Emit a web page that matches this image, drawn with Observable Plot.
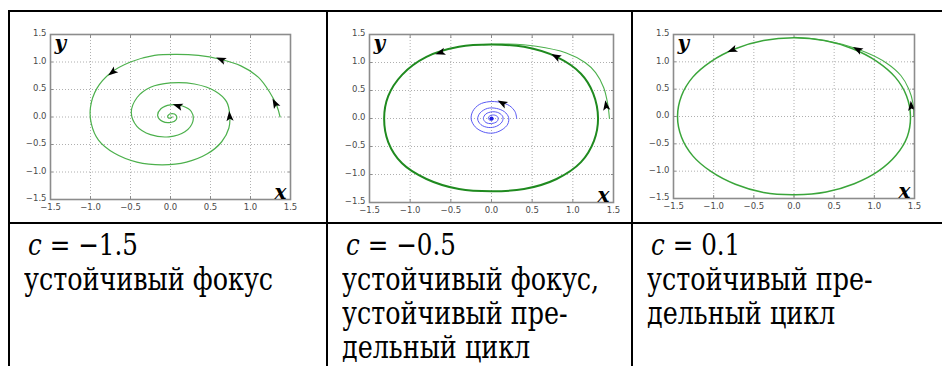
<!DOCTYPE html>
<html>
<head>
<meta charset="utf-8">
<script src="https://cdn.jsdelivr.net/npm/d3@7"></script>
<script src="https://cdn.jsdelivr.net/npm/@observablehq/plot@0.6"></script>
<style>
  html, body { margin: 0; padding: 0; background: #fff; }
  #page { position: relative; width: 942px; height: 366px; overflow: hidden; background: #fff; }
  .rule { position: absolute; background: #000; }
  .plot { position: absolute; }
  .cap { position: absolute; font-family: "DejaVu Serif", serif; font-size: 31px; line-height: 34px; color: #000; white-space: nowrap; transform: scaleX(0.82); transform-origin: 0 0; }
  .cap i { font-style: italic; }
  .cap .eq { padding-left: 5px; font-size: 30px; }
</style>
</head>
<body>
<div id="page">
  <div class="rule" style="left:8px;top:10px;width:934px;height:2px"></div>
  <div class="rule" style="left:8px;top:10px;width:2px;height:356px"></div>
  <div class="rule" style="left:326px;top:10px;width:2px;height:356px"></div>
  <div class="rule" style="left:631px;top:10px;width:2px;height:356px"></div>
  <div class="rule" style="left:8px;top:222px;width:934px;height:2px"></div>
  <div class="plot" id="p1" style="left:10px;top:12px"></div>
  <div class="plot" id="p2" style="left:328px;top:12px"></div>
  <div class="plot" id="p3" style="left:633px;top:12px"></div>
  <div class="cap" id="c1" style="left:24px;top:227px"></div>
  <div class="cap" id="c2" style="left:342px;top:227px"></div>
  <div class="cap" id="c3" style="left:647px;top:227px"></div>
</div>
<script>
// ---- data ----
const ticks = [-1.5, -1.0, -0.5, 0.0, 0.5, 1.0, 1.5];
const gridTicks = [-1.0, -0.5, 0.0, 0.5, 1.0];

// panel 1: c = -1.5, trajectory spiralling into a stable focus
const spiral1X = [1.37, 1.33, 1.24, 1.10, 0.88, 0.62, 0.35, 0.08, -0.20, -0.50, -0.75, -0.92, -1.00, -0.99, -0.90, -0.70, -0.42, -0.10, 0.20, 0.46, 0.64, 0.73, 0.74, 0.70, 0.56, 0.30, 0.00, -0.25, -0.42, -0.49, -0.42, -0.25, -0.02, 0.18, 0.28, 0.26, 0.15, 0.00, -0.12, -0.16, -0.10, 0.00, 0.07, 0.07, 0.02, -0.03, -0.03, 0.00, 0.02];
const spiral1Y = [0.00, 0.20, 0.45, 0.72, 0.93, 1.05, 1.12, 1.14, 1.12, 1.00, 0.80, 0.52, 0.18, -0.12, -0.42, -0.66, -0.82, -0.87, -0.82, -0.67, -0.45, -0.20, 0.05, 0.28, 0.47, 0.60, 0.62, 0.54, 0.35, 0.08, -0.17, -0.32, -0.36, -0.27, -0.08, 0.10, 0.20, 0.22, 0.15, 0.02, -0.08, -0.10, -0.05, 0.03, 0.06, 0.03, -0.01, -0.02, 0.00];
const arrows1X = [1.31, 0.64, -0.72, 0.74, 0.10];
const arrows1Y = [0.24, 1.04, 0.82, 0.00, 0.20];
const arrows1Heading = [-28, -68, -128, -5, -72];

// panel 2: c = -0.5, stable focus inside a stable limit cycle
const approach2X = [1.45, 1.43, 1.38, 1.28, 1.15, 0.92, 0.55, 0.18, -0.10];
const approach2Y = [0.00, 0.25, 0.55, 0.82, 1.00, 1.17, 1.29, 1.33, 1.32];
const cycle2X = [1.31, 1.25, 1.10, 0.80, 0.40, 0.00, -0.40, -0.80, -1.10, -1.27, -1.32, -1.27, -1.10, -0.80, -0.40, 0.00, 0.40, 0.80, 1.10, 1.26];
const cycle2Y = [0.00, 0.45, 0.80, 1.10, 1.28, 1.32, 1.28, 1.10, 0.78, 0.40, 0.00, -0.42, -0.80, -1.08, -1.26, -1.30, -1.26, -1.08, -0.78, -0.40];
const focus2X = [0.31, 0.29, 0.22, 0.10, -0.03, -0.15, -0.23, -0.25, -0.20, -0.10, 0.02, 0.13, 0.20, 0.21, 0.16, 0.06, -0.05, -0.14, -0.17, -0.13, -0.04, 0.06, 0.13, 0.14, 0.09, 0.01, -0.07, -0.10, -0.07, 0.00, 0.07, 0.08, 0.04, -0.02, -0.04, -0.02, 0.02, 0.02, 0.00];
const focus2Y = [0.00, 0.12, 0.23, 0.29, 0.30, 0.25, 0.13, -0.01, -0.15, -0.24, -0.26, -0.20, -0.10, 0.02, 0.12, 0.18, 0.18, 0.10, -0.01, -0.11, -0.16, -0.14, -0.06, 0.03, 0.10, 0.12, 0.08, 0.00, -0.07, -0.09, -0.05, 0.02, 0.06, 0.05, 0.00, -0.03, -0.02, 0.01, 0.01];
const arrows2X = [1.41, 0.80, -0.62];
const arrows2Y = [0.22, 1.10, 1.18];
const arrows2Heading = [-8, -62, -107];
const arrowsFocus2X = [0.14];
const arrowsFocus2Y = [0.27];
const arrowsFocus2Heading = [-62];

// panel 3: c = 0.1, stable limit cycle
const approach3X = [1.49, 1.48, 1.43, 1.33, 1.15, 0.90, 0.60, 0.30, 0.00];
const approach3Y = [0.00, 0.25, 0.50, 0.75, 0.98, 1.17, 1.32, 1.41, 1.45];
const cycle3X = [1.45, 1.40, 1.26, 1.03, 0.73, 0.38, 0.00, -0.38, -0.73, -1.03, -1.26, -1.40, -1.45, -1.40, -1.26, -1.03, -0.73, -0.38, 0.02, 0.40, 0.75, 1.05, 1.27, 1.41];
const cycle3Y = [0.00, 0.38, 0.72, 1.01, 1.24, 1.39, 1.44, 1.39, 1.24, 1.01, 0.72, 0.38, 0.00, -0.38, -0.72, -1.01, -1.24, -1.39, -1.43, -1.38, -1.23, -1.00, -0.71, -0.37];
const arrows3X = [1.46, 0.80, -0.76];
const arrows3Y = [0.18, 1.22, 1.22];
const arrows3Heading = [-5, -62, -112];

const captions = [
  ["<span class='eq'><i>c</i> = −1.5</span>", "устойчивый фокус"],
  ["<span class='eq'><i>c</i> = −0.5</span>", "устойчивый фокус,", "устойчивый пре-", "дельный цикл"],
  ["<span class='eq'><i>c</i> = 0.1</span>", "устойчивый пре-", "дельный цикл"]
];

// ---- helpers ----
const pts = (xs, ys) => xs.map((x, i) => ({x, y: ys[i]}));
const arr = (xs, ys, hs) => xs.map((x, i) => ({x, y: ys[i], h: hs[i]}));
const fmt = d => d.toFixed(1).replace("-", "\u2212");

// notched arrowhead pointing up (rotated by the dot's rotate channel)
const arrowHead = {
  draw(context) {
    context.moveTo(0, -6);
    context.lineTo(3.6, 4);
    context.lineTo(0, 1.8);
    context.lineTo(-3.6, 4);
    context.closePath();
  }
};

function panel({width, height, ml, mr, mt, mb, marks}) {
  const tickStyle = {tickSize: -3, tickPadding: 0, tickFormat: () => "", stroke: "#8c8c8c", label: null};
  return Plot.plot({
    width, height,
    marginLeft: ml, marginRight: mr, marginTop: mt, marginBottom: mb,
    style: {background: "transparent", fontFamily: "DejaVu Sans, sans-serif"},
    x: {domain: [-1.5, 1.5]},
    y: {domain: [-1.5, 1.5]},
    marks: [
      Plot.gridX(gridTicks, {stroke: "#9a9a9a", strokeOpacity: 1, strokeDasharray: "1,2", strokeWidth: 0.8}),
      Plot.gridY(gridTicks, {stroke: "#9a9a9a", strokeOpacity: 1, strokeDasharray: "1,2", strokeWidth: 0.8}),
      Plot.axisX(gridTicks, {anchor: "bottom", ...tickStyle}),
      Plot.axisX(gridTicks, {anchor: "top", ...tickStyle}),
      Plot.axisY(gridTicks, {anchor: "left", ...tickStyle}),
      Plot.axisY(gridTicks, {anchor: "right", ...tickStyle}),
      Plot.axisX(ticks, {tickSize: 0, tickPadding: 4, tickFormat: fmt, fontSize: 8.5, fill: "#4a4a4a", label: null}),
      Plot.axisY(ticks, {tickSize: 0, tickPadding: 4, tickFormat: fmt, fontSize: 8.5, fill: "#4a4a4a", label: null, dy: -1}),
      ...marks,
      Plot.frame({stroke: "#8c8c8c", strokeWidth: 1.6}),
      Plot.text(["y"], {frameAnchor: "top-left", dx: 4, dy: 1, fontFamily: "DejaVu Serif", fontStyle: "italic", fontWeight: "bold", fontSize: 20, lineAnchor: "top", textAnchor: "start", fill: "#000"}),
      Plot.text(["x"], {frameAnchor: "bottom-right", dx: -4, dy: -1, fontFamily: "DejaVu Serif", fontStyle: "italic", fontWeight: "bold", fontSize: 20, lineAnchor: "bottom", textAnchor: "end", fill: "#000"})
    ]
  });
}

const arrowMark = (data, fill = "#000") => Plot.dot(data, {x: "x", y: "y", rotate: "h", symbol: arrowHead, r: 3, fill, stroke: "none"});

const p1 = panel({
  width: 305, height: 207, ml: 40, mr: 25, mt: 22, mb: 20,
  marks: [
    Plot.line(pts(spiral1X, spiral1Y), {x: "x", y: "y", curve: "catmull-rom", stroke: "#4cb04c", strokeWidth: 1.2}),
    arrowMark(arr(arrows1X, arrows1Y, arrows1Heading))
  ]
});
const p2 = panel({
  width: 300, height: 211, ml: 41, mr: 15, mt: 22, mb: 21,
  marks: [
    Plot.line(pts(approach2X, approach2Y), {x: "x", y: "y", curve: "catmull-rom", stroke: "#4cb04c", strokeWidth: 1.1}),
    Plot.line(pts(cycle2X, cycle2Y), {x: "x", y: "y", curve: "catmull-rom-closed", stroke: "#1f8a1f", strokeWidth: 2}),
    Plot.line(pts(focus2X, focus2Y), {x: "x", y: "y", curve: "catmull-rom", stroke: "#5a5af5", strokeWidth: 1}),
    Plot.dot([{x: 0, y: 0}], {x: "x", y: "y", r: 2, fill: "#2020e0"}),
    arrowMark(arr(arrows2X, arrows2Y, arrows2Heading)),
    arrowMark(arr(arrowsFocus2X, arrowsFocus2Y, arrowsFocus2Heading))
  ]
});
const p3 = panel({
  width: 305, height: 207, ml: 40, mr: 24, mt: 22, mb: 21,
  marks: [
    Plot.line(pts(approach3X, approach3Y), {x: "x", y: "y", curve: "catmull-rom", stroke: "#4cb04c", strokeWidth: 1.1}),
    Plot.line(pts(cycle3X, cycle3Y), {x: "x", y: "y", curve: "catmull-rom-closed", stroke: "#3aa53a", strokeWidth: 1.5}),
    arrowMark(arr(arrows3X, arrows3Y, arrows3Heading))
  ]
});
document.getElementById("p1").append(p1);
document.getElementById("p2").append(p2);
document.getElementById("p3").append(p3);
captions.forEach((lines, i) => {
  document.getElementById("c" + (i + 1)).innerHTML = lines.join("<br>");
});
</script>
</body>
</html>
